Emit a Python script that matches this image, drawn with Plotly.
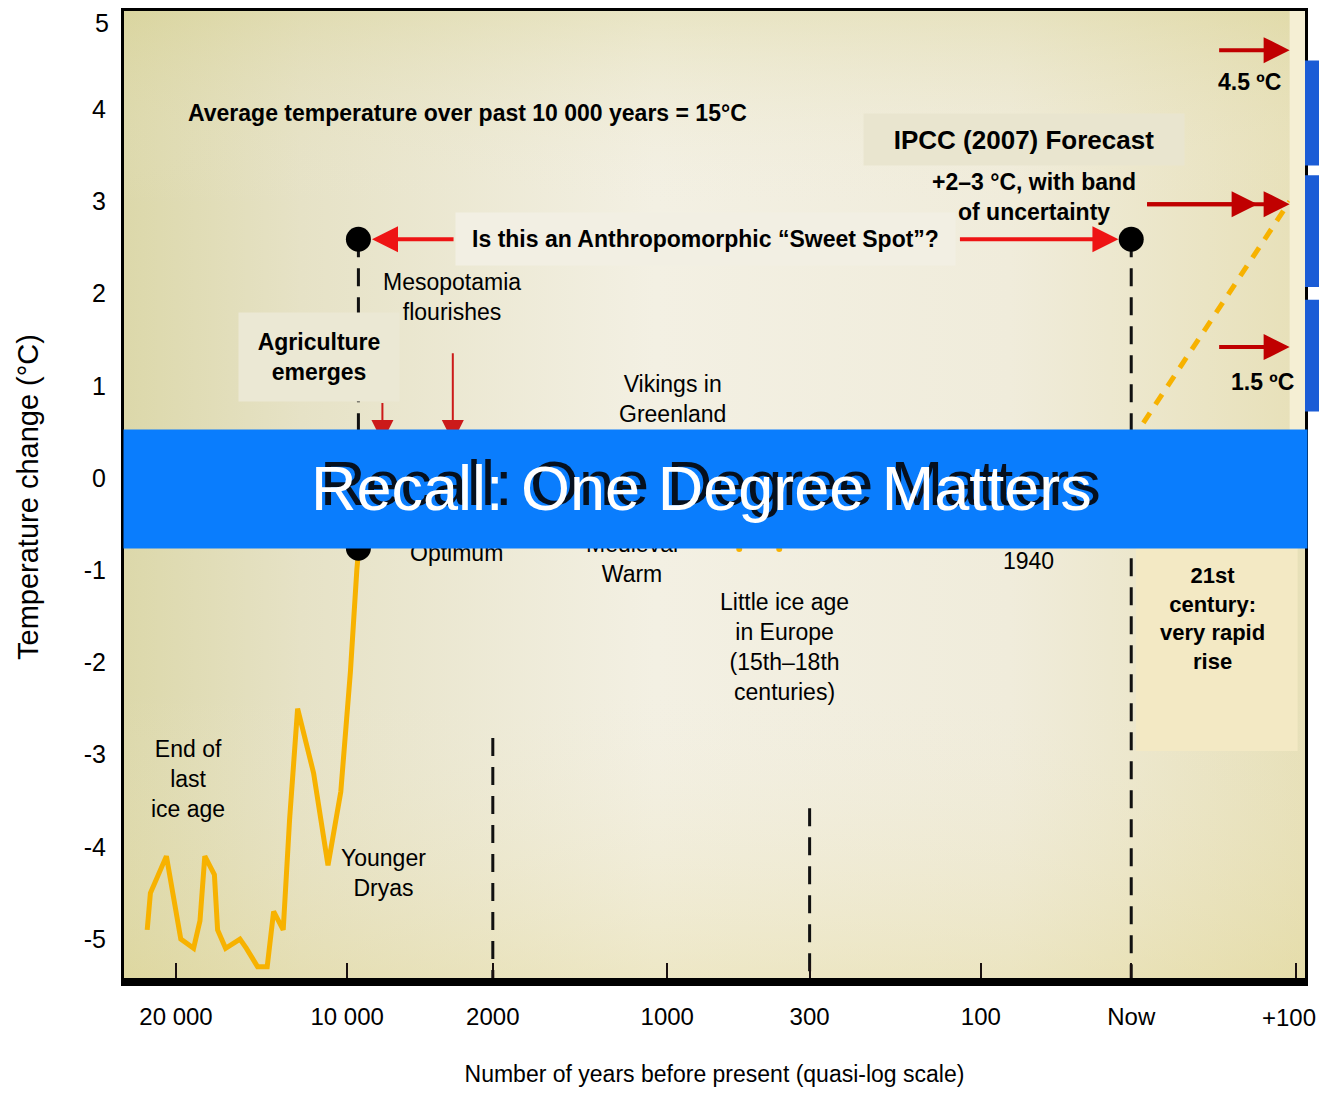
"""One Degree Matters: temperature change over the past 20 000 years (quasi-log scale)."""

import plotly.graph_objects as go

# x is the position along the quasi-log time axis (one unit ~ one labelled tick step)
X_TICK_POS = [0.0, 1.07, 1.98, 3.07, 3.96, 5.03, 5.97, 7.0]
X_TICK_LABELS = ["20 000", "10 000", "2000", "1000", "300", "100", "Now", "+100"]
Y_TICKS = [5, 4, 3, 2, 1, 0, -1, -2, -3, -4, -5]
Y_TICK_LABELS = ["5", "4", "3", "2", "1", "0", "-1", "-2", "-3", "-4", "-5"]

# end of the last ice age up to the Holocene optimum
ICE_AGE_X = [-0.18, -0.16, -0.06, -0.03, 0.03, 0.11, 0.15, 0.18, 0.24, 0.26, 0.31, 0.40,
             0.44, 0.51, 0.57, 0.61, 0.67, 0.71, 0.76, 0.86, 0.95, 1.03, 1.09, 1.13, 1.14]
ICE_AGE_T = [-4.9, -4.5, -4.1, -4.4, -5.0, -5.1, -4.8, -4.1, -4.3, -4.9, -5.1, -5.0,
             -5.1, -5.3, -5.3, -4.7, -4.9, -3.7, -2.5, -3.2, -4.2, -3.4, -2.1, -1.0, -0.8]
LIA_X = [3.52, 3.77]
LIA_T = [-0.77, -0.77]
FORECAST_X = [5.97, 6.96]
FORECAST_T = [0.4, 3.0]
# markers of the "sweet spot": holocene optimum, Mesopotamia, now
EVENT_X = [1.14, 1.14, 5.97]
EVENT_T = [2.59, -0.76, 2.59]
# dashed guide lines
GUIDE_X = [1.14, 1.98, 3.96, 5.97]
GUIDE_TOP = [2.59, -2.82, -3.58, 2.59]
GUIDE_BOTTOM = [-0.76, -5.48, -5.48, -5.48]

X_RANGE = [-0.325, 7.056]
Y_RANGE = [-5.476, 5.065]

FONT = "Liberation Sans, Arial, sans-serif"

fig = go.Figure()

# background wash
box_x = [X_RANGE[0], X_RANGE[1], X_RANGE[1], X_RANGE[0]]
box_y = [Y_RANGE[0], Y_RANGE[0], Y_RANGE[1], Y_RANGE[1]]
fig.add_trace(go.Scatter(
    x=box_x, y=box_y, fill="toself", mode="none", hoverinfo="skip", showlegend=False,
    fillgradient=dict(type="horizontal", colorscale=[
        [0.0, "#dcd8aa"], [0.15, "#e6e2c6"], [0.45, "#f3f0e3"], [0.75, "#f0ecdb"], [1.0, "#e7e0b8"]]),
))
fig.add_trace(go.Scatter(
    x=box_x, y=box_y, fill="toself", mode="none", hoverinfo="skip", showlegend=False,
    fillgradient=dict(type="vertical", colorscale=[
        [0.0, "rgba(226,214,140,0.35)"], [0.3, "rgba(240,236,220,0)"],
        [0.8, "rgba(240,236,220,0)"], [1.0, "rgba(214,208,140,0.35)"]]),
))

for gx, gt, gb in zip(GUIDE_X, GUIDE_TOP, GUIDE_BOTTOM):
    fig.add_trace(go.Scatter(x=[gx, gx], y=[gt, gb], mode="lines", hoverinfo="skip", showlegend=False,
                             line=dict(color="#111111", width=3, dash="18px,11px")))

fig.add_trace(go.Scatter(x=ICE_AGE_X, y=ICE_AGE_T, mode="lines", showlegend=False,
                         line=dict(color="#f7b200", width=5)))
fig.add_trace(go.Scatter(x=LIA_X, y=LIA_T, mode="markers", showlegend=False,
                         marker=dict(color="#f7b200", size=6)))
fig.add_trace(go.Scatter(x=FORECAST_X, y=FORECAST_T, mode="lines", showlegend=False,
                         line=dict(color="#f7b200", width=5, dash="12px,10px")))
fig.add_trace(go.Scatter(x=EVENT_X, y=EVENT_T, mode="markers", showlegend=False,
                         marker=dict(color="black", size=25)))

shapes = [
    dict(type="rect", xref="x", yref="y", x0=6.0, x1=7.01, y0=-2.96, y1=0.0,
         fillcolor="#f3e9c4", line_width=0, layer="above"),
    dict(type="rect", xref="x", yref="paper", x0=6.96, x1=X_RANGE[1], y0=0.56, y1=1.0,
         fillcolor="#f5efd4", line_width=0, layer="above"),
    dict(type="line", xref="paper", yref="paper", x0=0, x1=1, y0=0.002, y1=0.002,
         line=dict(color="black", width=6)),
]
for y0, y1 in [(0.841, 0.949), (0.716, 0.831), (0.588, 0.703)]:
    shapes.append(dict(type="rect", xref="paper", yref="paper", x0=1.0, x1=1.02, y0=y0, y1=y1,
                       fillcolor="#1b5cd6", line_width=0))

ann = []


def text(x, y, s, size=23, bold=False, **kw):
    s = f"<b>{s}</b>" if bold else s
    ann.append(dict(x=x, y=y, xref="x", yref="y", text=s, showarrow=False,
                    font=dict(family=FONT, size=size, color="black"), **kw))


def arrow(x, y, ax, ay, color, width=4, size=1.3, head=2):
    ann.append(dict(x=x, y=y, ax=ax, ay=ay, xref="x", yref="y", axref="x", ayref="y", text="",
                    showarrow=True, arrowhead=head, arrowsize=size, arrowwidth=width, arrowcolor=color))


# edge tick labels would be cut by the page edge, so they are drawn as annotations
ann.append(dict(x=0, y=Y_TICKS[0], xref="paper", yref="y", xanchor="right", xshift=-13, yshift=-6,
                text=Y_TICK_LABELS[0], showarrow=False, font=dict(family=FONT, size=25, color="black")))
ann.append(dict(x=X_TICK_POS[-1], y=0, xref="x", yref="paper", xanchor="right", yanchor="top",
                xshift=22, yshift=-19, text=X_TICK_LABELS[-1], showarrow=False,
                font=dict(family=FONT, size=24, color="black")))

text(1.82, 3.96, "Average temperature over past 10 000 years = 15°C", size=23, bold=True)
text(5.30, 3.67, "IPCC (2007) Forecast", size=26, bold=True,
     bgcolor="#e9e5cf", width=318, height=49)
text(5.36, 3.05, "+2–3 °C, with band<br>of uncertainty", size=23, bold=True)
text(3.31, 2.59, "Is this an Anthropomorphic “Sweet Spot”?", size=23, bold=True,
     bgcolor="#f2efe3", width=497, height=50)
text(1.725, 1.96, "Mesopotamia<br>flourishes", size=23)
text(0.894, 1.31, "Agriculture<br>emerges", size=23, bold=True,
     bgcolor="#ebe8d4", width=158, height=86)
text(3.10, 0.86, "Vikings in<br>Greenland", size=23)
text(1.756, -0.65, "Climatic<br>Optimum", size=23)
text(2.85, -0.88, "Medieval<br>Warm", size=23)
text(5.325, -0.90, "1940", size=23)
text(3.806, -1.83, "Little ice age<br>in Europe<br>(15th–18th<br>centuries)", size=23)
text(0.075, -3.26, "End of<br>last<br>ice age", size=23)
text(1.294, -4.28, "Younger<br>Dryas", size=23)
text(6.48, -1.52, "21st<br>century:<br>very rapid<br>rise", size=22, bold=True)
text(6.71, 4.29, "4.5 ºC", size=23, bold=True)
text(6.79, 1.04, "1.5 ºC", size=23, bold=True)

arrow(1.225, 2.59, 1.744, 2.59, "#ee1414")
arrow(5.89, 2.59, 4.89, 2.59, "#ee1414")
arrow(6.96, 4.64, 6.51, 4.64, "#c00000")
arrow(6.96, 2.97, 6.06, 2.97, "#c00000")
arrow(6.76, 2.97, 6.06, 2.97, "#c00000")
arrow(6.96, 1.42, 6.51, 1.42, "#c00000")
arrow(1.29, 0.39, 1.29, 0.83, "#cc1a1a", width=2, size=2.2)
arrow(1.73, 0.39, 1.73, 1.37, "#cc1a1a", width=2, size=2.2)

# banner across the chart, title with a dark offset shadow
ann.append(dict(x=0.5008, y=0.5087, xref="paper", yref="paper", text="", showarrow=False,
                bgcolor="#0a7dfd", width=1183, height=118, borderpad=0))
ann.append(dict(x=0.4962, y=0.5149, xref="paper", yref="paper", text="Recall: One Degree Matters",
                showarrow=False, font=dict(family=FONT, size=63, color="#06101e")))
ann.append(dict(x=0.4894, y=0.5097, xref="paper", yref="paper", text="Recall: One Degree Matters",
                showarrow=False, font=dict(family=FONT, size=63, color="white")))

# the page body adds an 8px offset, so the figure is smaller than the window
fig.update_layout(
    width=1319, height=1080,
    margin=dict(l=116, r=22, t=0, b=105),
    paper_bgcolor="white", plot_bgcolor="#ebe7cf",
    showlegend=False, shapes=shapes, annotations=ann,
    xaxis=dict(range=X_RANGE, tickvals=X_TICK_POS, ticktext=X_TICK_LABELS[:-1] + [""],
               ticks="inside", ticklen=20, tickwidth=2, tickcolor="#1a1010",
               showgrid=False, zeroline=False, showline=True, linecolor="black", linewidth=3, mirror=True,
               tickfont=dict(family=FONT, size=24, color="black"), ticklabelstandoff=10,
               title=dict(text="Number of years before present (quasi-log scale)", standoff=38,
                          font=dict(family=FONT, size=23, color="black"))),
    yaxis=dict(range=Y_RANGE, tickvals=Y_TICKS[1:], ticktext=Y_TICK_LABELS[1:], ticks="",
               showgrid=False, zeroline=False, showline=True, linecolor="black", linewidth=3, mirror=True,
               tickfont=dict(family=FONT, size=25, color="black"), ticklabelstandoff=10,
               title=dict(text="Temperature change (°C)", standoff=37,
                          font=dict(family=FONT, size=29, color="black"))),
)

fig.write_html("out.html")
